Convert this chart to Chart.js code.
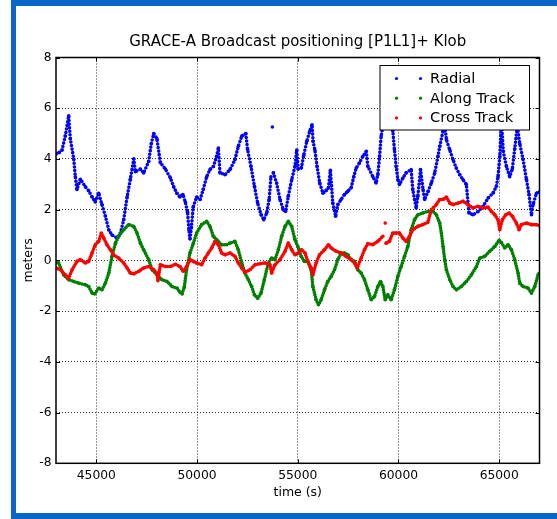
<!DOCTYPE html>
<html>
<head>
<meta charset="utf-8">
<script src="https://cdn.jsdelivr.net/npm/chart.js@4.4.0/dist/chart.umd.min.js"></script>
<style>
  html, body { margin: 0; padding: 0; background: #fff; }
  #wrap { position: relative; width: 557px; height: 519px; overflow: hidden; }
  #frame { position: absolute; left: 11px; top: 0; width: 560px; height: 507px;
           border-left: 5px solid #0a66c8; border-top: 6px solid #0a66c8; border-bottom: 6px solid #0a66c8; }
  #chart { position: absolute; left: 0; top: 0; }
</style>
</head>
<body>
<div id="wrap">
  <div id="frame"></div>
  <canvas id="chart" width="557" height="519"></canvas>
</div>
<script>
const chartTitle = 'GRACE-A Broadcast positioning [P1L1]+ Klob';
const xTicks = [45000, 50000, 55000, 60000, 65000];
const yTicks = [-8, -6, -4, -2, 0, 2, 4, 6, 8];

const radialTime = [43000, 43150, 43300, 43460, 43630, 43710, 43880, 43960, 44040, 44210, 44460, 44620, 44790, 44950, 45120,
  45280, 45450, 45620, 45780, 46030, 46200, 46360, 46530, 46690, 46860, 46940, 47190, 47350, 47600, 47730, 47850, 48010,
  48180, 48430, 48680, 48840, 49000, 49150, 49300, 49420, 49530, 49600, 49650, 49720, 49810, 49980, 50150, 50310, 50480,
  50640, 50810, 50970, 51060, 51140, 51390, 51640, 51880, 52050, 52220, 52420, 52510, 52680, 52850, 53010, 53180, 53310,
  53460, 53580, 53670, 53700, 53740, 53770, 53790, 53950, 54120, 54280, 54400, 54530, 54700, 54860, 54950, 55020, 55180,
  55300, 55450, 55600, 55710, 55760, 55850, 55960, 56090, 56250, 56400, 56520, 56620, 56740, 56880, 56990, 57150, 57320,
  57480, 57650, 57780, 57900, 58060, 58230, 58400, 58480, 58730, 58890, 58975, 59060, 59140, 59300, 59500, 59720, 59800,
  59885, 59970, 60050, 60220, 60380, 60630, 60710, 60800, 60880, 60960, 61095, 61220, 61300, 61470, 61630, 61800, 61960,
  62050, 62210, 62300, 62380, 62540, 62710, 62870, 63040, 63205, 63370, 63500, 63700, 63950, 64200, 64450, 64700, 64860,
  64940, 65030, 65110, 65200, 65360, 65520, 65650, 65770, 65900, 66020, 66180, 66350, 66480, 66600, 66680, 66850, 67000];
const radialValue = [4.2, 4.25, 4.35, 4.9, 5.7, 4.8, 4.0, 3.3, 2.8, 3.2, 2.9, 2.75, 2.5, 2.3, 2.65,
  2.2, 1.75, 1.2, 1.0, 0.88, 1.08, 1.6, 2.5, 3.2, 4.0, 3.5, 3.6, 3.45, 3.9, 4.6, 5.0, 4.8,
  3.85, 3.6, 3.25, 2.9, 2.65, 2.5, 2.6, 2.3, 1.9, 1.2, 0.85, 1.3, 2.1, 2.5, 2.4, 2.8, 3.3,
  3.58, 3.7, 4.1, 4.43, 3.45, 3.38, 3.58, 3.97, 4.5, 4.9, 5.0, 4.37, 3.7, 2.92, 2.26, 1.8, 1.6,
  1.87, 2.4, 3.3, null, 5.26, null, 3.45, 3.05, 2.4, 2.0, 1.93, 2.53, 3.18, 3.7, 4.35, 3.6, 3.65,
  4.15, 4.7, 5.1, 5.35, 4.7, 4.35, 3.7, 3.05, 2.65, 2.75, 2.85, 3.55, 2.26, 1.74, 2.2, 2.4, 2.6,
  2.72, 2.86, 3.3, 3.64, 3.84, 4.1, 4.3, 3.7, 3.3, 3.05, 3.38, 4.1, 4.9, 5.7, 5.6, 5.1, 4.37,
  3.7, 3.18, 2.99, 3.25, 3.45, 3.58, 2.79, 2.4, 2.07, 2.53, 3.58, 2.79, 2.4, 2.72, 3.05, 3.45, 4.1,
  4.5, 5.1, 5.3, 4.76, 4.37, 3.97, 3.64, 3.38, 3.18, 2.99, 1.87, 1.8, 1.93, 2.13, 2.46, 2.66, 2.92,
  3.3, 4.1, 5.6, 4.3, 3.7, 3.3, 3.6, 4.4, 5.3, 4.6, 4.0, 3.2, 2.6, 1.8, 2.2, 2.65, 2.7];

const alongTime = [43000, 43130, 43380, 43630, 43880, 44130, 44460, 44620, 44790, 44920, 45120, 45280, 45450, 45620, 45780,
  45950, 46110, 46360, 46610, 46860, 47020, 47190, 47350, 47600, 47770, 48010, 48260, 48510, 48760, 49010, 49150, 49260,
  49370, 49480, 49650, 49820, 49980, 50230, 50480, 50640, 50810, 50970, 51220, 51470, 51640, 51880, 52050, 52220, 52380,
  52550, 52710, 52850, 53010, 53180, 53340, 53540, 53700, 53870, 54040, 54200, 54370, 54530, 54700, 54860, 55000, 55170,
  55330, 55500, 55665, 55750, 55910, 56030, 56160, 56330, 56490, 56660, 56825, 56990, 57155, 57320, 57485, 57650, 57820,
  57980, 58150, 58313, 58480, 58644, 58810, 58975, 59110, 59225, 59340, 59470, 59640, 59800, 59970, 60133, 60300, 60465,
  60630, 60795, 60960, 61210, 61460, 61716, 61880, 62047, 62130, 62212, 62295, 62378, 62544, 62710, 62874, 63120, 63370,
  63620, 63870, 64033, 64280, 64530, 64780, 64993, 65110, 65274, 65440, 65605, 65770, 65936, 66020, 66185, 66430, 66600,
  66764, 66930, 67000];
const alongValue = [-0.08, -0.1, -0.57, -0.76, -0.83, -0.9, -0.96, -1.03, -1.29, -1.32, -1.09, -1.16, -0.9, -0.5, 0.16,
  0.68, 0.95, 1.21, 1.41, 1.34, 1.08, 0.68, 0.42, 0.03, -0.37, -0.57, -0.76, -0.83, -1.03, -1.1, -1.25, -1.32,
  -1.05, -0.37, 0.29, 0.68, 1.08, 1.41, 1.54, 1.34, 0.95, 0.82, 0.62, 0.62, 0.68, 0.75, 0.42, -0.1, -0.5,
  -0.76, -1.03, -1.36, -1.49, -1.29, -0.76, -0.1, 0.09, 0.03, 0.42, 0.95, 1.34, 1.54, 1.34, 0.82, 0.55, 0.16,
  -0.04, -0.04, -0.37, -1.03, -1.55, -1.75, -1.55, -1.16, -0.83, -0.63, -0.37, 0.03, 0.29, 0.29, 0.22, 0.03, -0.04,
  -0.37, -0.5, -0.76, -1.16, -1.55, -1.42, -1.03, -0.83, -1.03, -1.55, -1.36, -1.55, -1.16, -0.63, -0.24, 0.16, 0.55,
  1.21, 1.6, 1.8, 1.87, 1.93, 1.93, 1.8, 1.47, 1.08, 0.55, 0.03, -0.37, -0.76, -1.03, -1.16, -1.03, -0.83,
  -0.57, -0.24, 0.09, 0.16, 0.36, 0.55, 0.79, 0.7, 0.49, 0.62, 0.42, 0.03, -0.5, -0.9, -1.03, -1.09, -1.29,
  -1.03, -0.57, -0.5];

const crossTime = [43000, 43220, 43460, 43630, 43800, 44040, 44210, 44460, 44620, 44790, 44950, 45120, 45250, 45370, 45530,
  45700, 45860, 46110, 46360, 46530, 46690, 46860, 47110, 47350, 47600, 47850, 48010, 48060, 48180, 48430, 48680, 48930,
  49150, 49320, 49485, 49650, 49820, 49980, 50230, 50400, 50560, 50730, 50890, 51060, 51220, 51390, 51640, 51885, 52050,
  52215, 52380, 52630, 52880, 53130, 53375, 53620, 53705, 53870, 54120, 54370, 54530, 54700, 54860, 55030, 55195, 55360,
  55500, 55665, 55750, 55913, 56080, 56327, 56526, 56658, 56906, 57155, 57403, 57650, 57817, 57950, 58150, 58313, 58480,
  58727, 58975, 59223, 59300, 59340, 59360, 59389, 59554, 59720, 59885, 60050, 60216, 60382, 60547, 60713, 60960, 61210,
  61457, 61633, 61880, 62047, 62212, 62378, 62544, 62710, 62957, 63205, 63454, 63702, 63950, 64200, 64447, 64612, 64778,
  64943, 65026, 65158, 65324, 65490, 65655, 65854, 65986, 66102, 66350, 66600, 66846, 67000];
const crossValue = [-0.3, -0.37, -0.57, -0.7, -0.37, -0.04, 0.03, -0.1, -0.04, 0.29, 0.62, 0.75, 1.08, 0.88, 0.62,
  0.42, 0.22, 0.09, -0.1, -0.3, -0.5, -0.53, -0.43, -0.3, -0.24, -0.37, -0.5, -0.8, -0.17, -0.24, -0.24, -0.15,
  -0.24, -0.43, -0.24, 0.03, -0.04, -0.1, -0.17, 0.09, 0.29, 0.49, 0.75, 0.62, 0.29, 0.22, 0.29, 0.16, -0.1,
  -0.3, -0.47, -0.37, -0.17, -0.13, -0.1, -0.17, -0.5, -0.17, 0.03, 0.36, 0.68, 0.42, 0.22, 0.29, 0.42, 0.29,
  -0.04, -0.3, -0.57, -0.1, 0.22, 0.42, 0.62, 0.49, 0.36, 0.29, 0.16, 0.03, -0.1, -0.3, 0.09, 0.42, 0.66,
  0.62, 0.75, 0.95, null, 1.47, null, 0.68, 0.75, 1.08, 1.08, 1.08, 0.88, 0.75, 0.95, 1.21, 1.34, 1.41,
  1.5, 2.0, 2.2, 2.4, 2.4, 2.5, 2.26, 2.2, 2.26, 2.33, 2.2, 2.07, 2.13, 2.07, 2.1, 1.93, 1.8,
  1.6, 1.21, 1.6, 1.8, 1.87, 1.74, 1.47, 1.21, 1.41, 1.47, 1.41, 1.41, 1.37];

function series(label, times, values, color, order, gap) {
  return {
    label: label,
    data: times.map((t, i) => ({ x: t, y: values[i] })),
    showLine: true,
    spanGaps: false,
    borderColor: color,
    backgroundColor: color,
    borderWidth: 3.6,
    borderDash: [0, gap],
    borderCapStyle: 'round',
    pointRadius: 1.8,
    pointBorderWidth: 0,
    order: order
  };
}

const font = 'DejaVu Sans';

// box round the axes, inward tick marks and the legend box
const axesBox = {
  id: 'axesBox',
  afterDatasetsDraw(chart) {
    const { ctx, chartArea: a, scales } = chart;
    ctx.save();
    ctx.strokeStyle = '#000';
    ctx.lineWidth = 1;
    ctx.beginPath();
    scales.x.ticks.forEach(t => {
      const px = Math.round(scales.x.getPixelForValue(t.value)) + 0.5;
      ctx.moveTo(px, a.bottom); ctx.lineTo(px, a.bottom - 4);
      ctx.moveTo(px, a.top); ctx.lineTo(px, a.top + 4);
    });
    scales.y.ticks.forEach(t => {
      const py = Math.round(scales.y.getPixelForValue(t.value)) + 0.5;
      ctx.moveTo(a.left, py); ctx.lineTo(a.left + 4, py);
      ctx.moveTo(a.right, py); ctx.lineTo(a.right - 4, py);
    });
    ctx.stroke();
    ctx.lineWidth = 1.5;
    ctx.strokeRect(a.left, a.top, a.right - a.left, a.bottom - a.top);

    // legend
    const w = 149.5, h = 64.5;
    const bx = a.right - 10 - w, by = a.top + 8;
    ctx.fillStyle = '#fff';
    ctx.fillRect(bx, by, w, h);
    ctx.lineWidth = 1;
    ctx.strokeStyle = '#000';
    ctx.strokeRect(bx, by, w, h);
    ctx.font = '14.7px "' + font + '"';
    ctx.textBaseline = 'middle';
    ctx.textAlign = 'left';
    chart.data.datasets.forEach((ds, i) => {
      const cy = by + 13 + i * 19.7;
      ctx.fillStyle = ds.borderColor;
      [16.5, 40.5].forEach(dx => {
        ctx.beginPath();
        ctx.arc(bx + dx, cy, 1.6, 0, Math.PI * 2);
        ctx.fill();
      });
      ctx.fillStyle = '#000';
      ctx.fillText(ds.label, bx + 50, cy + 0.5);
    });
    ctx.restore();
  }
};

new Chart(document.getElementById('chart'), {
  type: 'scatter',
  data: {
    datasets: [
      series('Radial', radialTime, radialValue, '#0000ff', 3, 3.6),
      series('Along Track', alongTime, alongValue, '#008000', 2, 2.6),
      series('Cross Track', crossTime, crossValue, '#ff0000', 1, 2.4)
    ]
  },
  options: {
    responsive: false,
    animation: false,
    devicePixelRatio: 1,
    layout: { padding: { left: 0, right: 17.5, top: 0, bottom: 0 } },
    plugins: {
      legend: { display: false },
      tooltip: { enabled: false },
      title: {
        display: true,
        text: chartTitle,
        fullSize: false,
        color: '#000',
        font: { family: font, size: 15, weight: 'normal' },
        padding: { top: 33, bottom: 6.5 }
      }
    },
    scales: {
      x: {
        type: 'linear',
        min: 43000,
        max: 67000,
        afterBuildTicks: s => { s.ticks = xTicks.map(v => ({ value: v })); },
        afterFit: s => { s.height = 55.7; },
        grid: { color: 'rgba(0,0,0,0.8)', lineWidth: 1, drawTicks: false },
        border: { display: false, dash: [1, 2] },
        ticks: { color: '#000', padding: 5, font: { family: font, size: 12.3 }, maxRotation: 0, callback: v => String(v) },
        title: { display: true, text: 'time (s)', color: '#000', font: { family: font, size: 12.5 }, padding: { top: 0, bottom: 18.5 } }
      },
      y: {
        type: 'linear',
        min: -8,
        max: 8,
        afterBuildTicks: s => { s.ticks = yTicks.map(v => ({ value: v })); },
        afterFit: s => { s.width = 56; },
        grid: { color: 'rgba(0,0,0,0.8)', lineWidth: 1, drawTicks: false },
        border: { display: false, dash: [1, 2] },
        ticks: { color: '#000', padding: 4.5, font: { family: font, size: 12.3 }, callback: v => String(v) },
        title: { display: true, text: 'meters', color: '#000', font: { family: font, size: 12.5 }, padding: { top: 21.5, bottom: 0 } }
      }
    }
  },
  plugins: [axesBox]
});
</script>
</body>
</html>
